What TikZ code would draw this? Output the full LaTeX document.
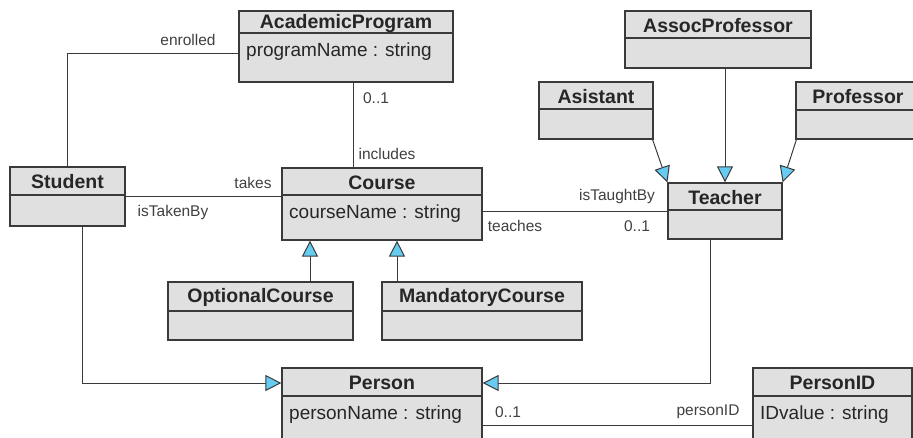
\documentclass[tikz,border=0pt]{standalone}
\usepackage{fontspec}
\setmainfont{Liberation Sans}
\usetikzlibrary{arrows.meta,fit}
\definecolor{boxfill}{HTML}{E0E0E0}
\definecolor{boxline}{HTML}{3A3A3A}
\definecolor{tipfill}{HTML}{66CCF2}
\definecolor{labelgray}{HTML}{404040}
\tikzset{
  clsbox/.style={draw=boxline, fill=boxfill, line width=1.2pt, inner sep=0pt},
  clstitle/.style={font=\fontsize{19.5}{21}\selectfont\bfseries, inner sep=0pt, text=black!85},
  clsattr/.style={font=\fontsize{19}{21}\selectfont, inner sep=0pt, anchor=west, text=black!85},
  assoc/.style={draw=boxline, line width=1pt},
  inherit/.style={draw=boxline, line width=1pt, -{Triangle[length=16pt,width=16pt,fill=tipfill]}},
  rolelabel/.style={font=\fontsize{15.5}{17}\selectfont, text=labelgray, inner sep=0pt},
}
% UML class: name, left, top, right, bottom, divider, title, attribute
\newcommand{\umlclass}[8]{%
  \node[clsbox, fit={(#2,#3) (#4,#5)}] (#1) {};
  \draw[boxline, line width=1.2pt] (#2,#6) -- (#4,#6);
  \node[clstitle] (#1-title) at ({(#2+#4)/2},{(#3+#6)/2+1}) {#7};
  \node[clsattr] (#1-attr) at (#2+7,#6+19) {#8};
}
\begin{document}
\begin{tikzpicture}[x=1pt, y=-1pt]
  \useasboundingbox (0,0) rectangle (913,437);
  \clip (0,0) rectangle (913,437);

  % classes
  \umlclass{ap}{239}{11}{453}{82}{33}{AcademicProgram}{programName : string}
  \umlclass{st}{10}{167}{125}{226}{195}{Student}{}
  \umlclass{co}{282}{168}{482}{240}{195}{Course}{courseName : string}
  \umlclass{te}{668}{183}{782}{239}{210}{Teacher}{}
  \umlclass{asp}{625}{11}{811}{68}{38}{AssocProfessor}{}
  \umlclass{as}{539}{82}{653}{139}{109}{Asistant}{}
  \umlclass{pr}{796}{82}{920}{139}{110}{Professor}{}
  \umlclass{oc}{168}{282}{353}{340}{311}{OptionalCourse}{}
  \umlclass{mc}{382}{282}{582}{340}{311}{MandatoryCourse}{}
  \umlclass{pe}{282}{368}{482}{450}{396}{Person}{personName : string}
  \umlclass{pid}{753}{368}{912}{450}{396}{PersonID}{IDvalue : string}

  % associations
  \draw[assoc] ([yshift=-6.5pt]ap.west) -| (st.north);
  \draw[assoc] ([xshift=7pt]ap.south) -- ([xshift=7pt]ap.south |- co.north);
  \draw[assoc] (st.east) -- (st.east -| co.west);
  \draw[assoc] (co.east |- te.west) -- (te.west);
  \draw[assoc] ([yshift=-16pt]pe.east) -- ([yshift=-16pt]pe.east -| pid.west);

  % generalizations
  \draw[inherit] ([xshift=-72pt]co.south |- oc.north) -- ([xshift=-72pt]co.south);
  \draw[inherit] ([xshift=15pt]co.south |- mc.north) -- ([xshift=15pt]co.south);
  \draw[inherit] ([xshift=-1pt]as.south east) -- (te.north west);
  \draw[inherit] ([xshift=1pt]pr.south west) -- (te.north east);
  \draw[inherit] (te.north |- asp.south) -- (te.north);
  \draw[inherit] ([xshift=14.5pt]st.south) |- ([yshift=26pt]pe.west);
  \draw[inherit] ([xshift=-15pt]te.south) |- ([yshift=26pt]pe.east);

  % role names and multiplicities
  \node[rolelabel] (l-enrolled) at (188,40) {enrolled};
  \node[rolelabel] (l-apmult) at (376,98) {0..1};
  \node[rolelabel] (l-includes) at (387,154) {includes};
  \node[rolelabel] (l-takes) at (253,183) {takes};
  \node[rolelabel] (l-takenby) at (173,212) {isTakenBy};
  \node[rolelabel] (l-taughtby) at (617,196) {isTaughtBy};
  \node[rolelabel] (l-teaches) at (515,226) {teaches};
  \node[rolelabel] (l-temult) at (637,226) {0..1};
  \node[rolelabel] (l-pemult) at (508,412) {0..1};
  \node[rolelabel] (l-personid) at (708,412) {personID};
\end{tikzpicture}
\end{document}
